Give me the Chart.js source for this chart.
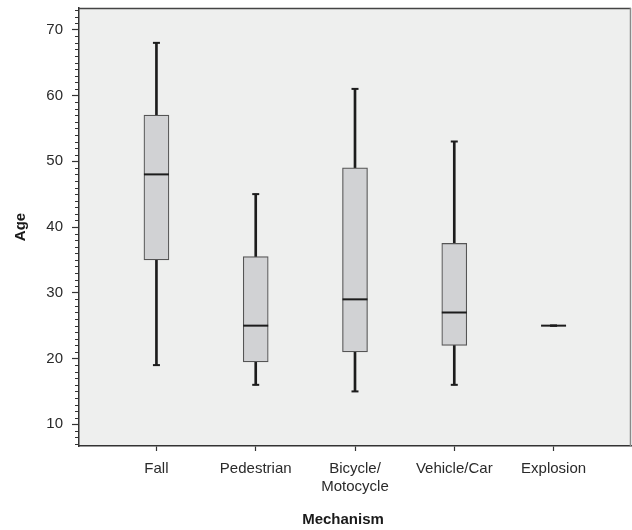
<!DOCTYPE html>
<html>
<head>
<meta charset="utf-8">
<script src="https://cdn.jsdelivr.net/npm/chart.js@4/dist/chart.umd.min.js"></script>
<style>
  html, body { margin: 0; padding: 0; background: #ffffff; }
  #wrap { width: 632px; height: 530px; position: relative; }
</style>
</head>
<body>
<div id="wrap"><canvas id="c" width="632" height="530"></canvas></div>
<script>
// ---- data ----
const categories = ['Fall', 'Pedestrian', ['Bicycle/', 'Motocycle'], 'Vehicle/Car', 'Explosion'];
const whiskerLow  = [19, 16, 15, 16, 25];
const q1          = [35, 19.5, 21, 22, 25];
const median      = [48, 25, 29, 27, 25];
const q3          = [57, 35.5, 49, 37.5, 25];
const whiskerHigh = [68, 45, 61, 53, 25];
const yTickValues = [10, 20, 30, 40, 50, 60, 70];
const xTitle = 'Mechanism';
const yTitle = 'Age';

const FONT = "'Liberation Sans', Arial, Helvetica, sans-serif";
const INK = '#1c1c1c';

const idx = categories.map((_, i) => i);

function noPad(s) {
  s.paddingTop = 0; s.paddingBottom = 0; s.paddingLeft = 0; s.paddingRight = 0;
}

const plotDecor = {
  id: 'plotDecor',
  beforeDraw(chart) {
    const { ctx, chartArea: a } = chart;
    ctx.save();
    ctx.fillStyle = '#ffffff';
    ctx.fillRect(0, 0, chart.width, chart.height);
    ctx.fillStyle = '#eeefee';
    ctx.fillRect(a.left, a.top, a.right - a.left, a.bottom - a.top);
    ctx.restore();
  },
  afterDraw(chart) {
    const { ctx, chartArea: a, scales } = chart;
    ctx.save();
    // top and right frame
    ctx.lineWidth = 1.5;
    ctx.strokeStyle = '#444444';
    ctx.beginPath();
    ctx.moveTo(a.left, a.top + 0.5);
    ctx.lineTo(a.right, a.top + 0.5);
    ctx.stroke();
    ctx.strokeStyle = '#8a8a8a';
    ctx.beginPath();
    ctx.moveTo(a.right - 0.5, a.top);
    ctx.lineTo(a.right - 0.5, a.bottom);
    ctx.stroke();
    // minor ticks on y axis (every 1 unit)
    const y = scales.y;
    ctx.strokeStyle = '#333333';
    ctx.lineWidth = 1;
    ctx.beginPath();
    for (let v = Math.ceil(y.min); v <= Math.floor(y.max); v++) {
      if (v % 10 === 0) continue;
      const py = Math.round(y.getPixelForValue(v)) + 0.5;
      ctx.moveTo(a.left - 4, py);
      ctx.lineTo(a.left, py);
    }
    ctx.stroke();
    // x axis title
    ctx.fillStyle = '#1a1a1a';
    ctx.font = 'bold 15px ' + FONT;
    ctx.textAlign = 'center';
    ctx.textBaseline = 'middle';
    ctx.fillText(xTitle, 343, 520);
    ctx.restore();
  }
};

new Chart(document.getElementById('c'), {
  type: 'bar',
  data: {
    datasets: [
      {
        type: 'scatter',
        label: 'median',
        order: 0,
        data: idx.map(i => ({ x: i, y: median[i] })),
        pointStyle: 'line',
        radius: 12.5,
        hoverRadius: 12.5,
        borderWidth: 2,
        borderColor: INK,
        backgroundColor: INK
      },
      {
        type: 'scatter',
        label: 'caps',
        order: 1,
        data: idx.flatMap(i => [{ x: i, y: whiskerLow[i] }, { x: i, y: whiskerHigh[i] }]),
        pointStyle: 'line',
        radius: 3.5,
        hoverRadius: 3.5,
        borderWidth: 2,
        borderColor: INK,
        backgroundColor: INK
      },
      {
        label: 'box',
        order: 2,
        grouped: false,
        data: idx.map(i => ({ x: i, y: [q1[i], q3[i]] })),
        barThickness: 25,
        backgroundColor: '#d1d2d4',
        borderColor: '#555555',
        borderWidth: 1.2,
        borderSkipped: false
      },
      {
        label: 'whisker',
        order: 3,
        grouped: false,
        data: idx.map(i => ({ x: i, y: [whiskerLow[i], whiskerHigh[i]] })),
        barThickness: 2,
        backgroundColor: INK,
        borderWidth: 0
      }
    ]
  },
  plugins: [plotDecor],
  options: {
    responsive: false,
    animation: false,
    events: [],
    layout: { autoPadding: false, padding: { top: 8, right: 1, left: 0, bottom: 0 } },
    plugins: { legend: { display: false }, tooltip: { enabled: false } },
    scales: {
      x: {
        type: 'linear',
        min: -0.78,
        max: 4.78,
        offset: false,
        afterBuildTicks: s => { s.ticks = idx.map(i => ({ value: i })); },
        afterFit: s => { s.height = 84; noPad(s); },
        ticks: {
          autoSkip: false,
          maxRotation: 0,
          padding: 9,
          color: '#2a2a2a',
          font: { family: FONT, size: 15, lineHeight: 1.2 },
          callback: v => categories[v]
        },
        grid: { drawOnChartArea: false, offset: false, tickLength: 5, tickColor: '#333333', tickWidth: 1.2 },
        border: { display: true, color: '#333333', width: 1.5 }
      },
      y: {
        type: 'linear',
        min: 6.7,
        max: 73.3,
        afterBuildTicks: s => { s.ticks = yTickValues.map(v => ({ value: v })); },
        afterFit: s => { s.width = 79; noPad(s); },
        ticks: {
          padding: 9,
          color: '#2a2a2a',
          font: { family: FONT, size: 15 },
          callback: v => String(v)
        },
        grid: { drawOnChartArea: false, tickLength: 7, tickColor: '#333333', tickWidth: 1.2 },
        border: { display: true, color: '#333333', width: 1.5 },
        title: {
          display: true,
          text: yTitle,
          color: '#1a1a1a',
          font: { family: FONT, size: 15, weight: 'bold' },
          padding: { top: 12, bottom: 0 }
        }
      }
    }
  }
});
</script>
</body>
</html>
